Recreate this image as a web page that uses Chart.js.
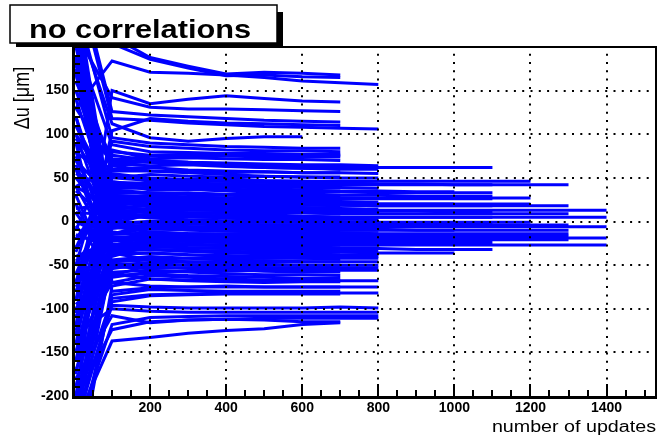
<!DOCTYPE html>
<html>
<head>
<meta charset="utf-8">
<script src="https://cdn.jsdelivr.net/npm/chart.js@4/dist/chart.umd.min.js"></script>
<style>
  html, body { margin: 0; padding: 0; background: #fff; }
  #chart { display: block; }
</style>
</head>
<body>
<canvas id="chart" width="658" height="441"></canvas>
<script>
// x positions of the update steps (first point is the start value)
const updateSteps = [5, 100, 200, 300, 400, 500, 600, 700, 800, 900, 1000, 1100, 1200, 1300, 1400];

const xTickValues = [200, 400, 600, 800, 1000, 1200, 1400];
const yTickValues = [-200, -150, -100, -50, 0, 50, 100, 150];

// delta u per alignable, grouped by the last update step it reaches
const runsTo600 = [
  [235, 112, 96, 92, 95, 97, 97],
  [-150, 18, 30, 27, 25, 24, 24],
  [175, -36, -44, -47, -46, -45, -46]
];

const runsTo700 = [
  [300, 212, 188, 178, 169, 171, 170, 168],
  [320, 204, 186, 176, 167, 168, 166, 165],
  [-120, 150, 135, 140, 144, 141, 138, 137],
  [215, 142, 131, 129, 129, 128, 127, 126],
  [290, 126, 122, 120, 118, 116, 115, 114],
  [-90, 104, 118, 115, 113, 112, 111, 110],
  [250, 96, 90, 88, 86, 85, 84, 84],
  [-50, 92, 86, 84, 82, 81, 81, 80],
  [205, 88, 80, 79, 78, 78, 77, 77],
  [-130, 80, 76, 77, 76, 75, 74, 74],
  [-10, 82, 72, 73, 72, 71, 71, 70],
  [150, 70, 75, 76, 75, 74, 75, 76],
  [40, 64, 70, 68, 66, 64, 62, 60],
  [130, 66, 64, 65, 63, 62, 61, 61],
  [95, 58, 58, 57, 56, 57, 56, 56],
  [-70, 50, 54, 52, 51, 52, 51, 51],
  [-30, 55, 50, 48, 49, 47, 46, 45],
  [55, 36, 46, 44, 43, 42, 41, 40],
  [100, 40, 42, 40, 40, 38, 36, 35],
  [-105, 44, 36, 37, 35, 33, 32, 30],
  [-60, 34, 32, 33, 31, 30, 29, 28],
  [70, 26, 28, 26, 25, 24, 23, 22],
  [185, 20, 24, 23, 21, 20, 19, 18],
  [-80, 28, 20, 18, 16, 15, 14, 12],
  [-110, 4, 16, 14, 12, 11, 10, 9],
  [60, 10, 12, 10, 9, 8, 6, 5],
  [35, -2, 8, 6, 4, 3, 2, 1],
  [10, 8, 4, 2, 1, 0, -1, -2],
  [-125, -8, -4, -6, -8, -9, -10, -11],
  [-190, -14, -8, -9, -11, -12, -13, -14],
  [120, -6, -12, -14, -15, -16, -17, -18],
  [80, -28, -16, -18, -20, -21, -22, -22],
  [-40, -22, -20, -22, -24, -25, -26, -27],
  [-15, -30, -24, -26, -28, -29, -30, -31],
  [230, -20, -28, -30, -31, -33, -34, -35],
  [40, -34, -32, -34, -36, -37, -38, -39],
  [-60, -38, -36, -38, -40, -41, -42, -43],
  [-250, -44, -40, -42, -44, -45, -46, -46],
  [60, -46, -44, -46, -48, -49, -50, -50],
  [-5, -54, -48, -50, -52, -53, -54, -54],
  [-215, -48, -52, -54, -55, -57, -58, -58],
  [-95, -58, -56, -58, -60, -61, -61, -62],
  [20, -62, -60, -62, -63, -64, -65, -65],
  [-140, -70, -62, -64, -66, -67, -67, -68],
  [-300, -74, -66, -68, -69, -70, -69, -69],
  [90, -80, -76, -75, -74, -75, -75, -75],
  [-270, -84, -78, -79, -80, -80, -80, -80],
  [-235, -92, -85, -84, -83, -83, -83, -83],
  [-230, -137, -133, -128, -125, -123, -118, -116],
  [-180, -108, -116, -113, -112, -113, -115, -115]
];

const runsTo800 = [
  [130, 184, 171, 170, 168, 165, 161, 159, 157],
  [280, 118, 116, 113, 111, 109, 108, 107, 106],
  [-70, 76, 70, 68, 67, 66, 65, 65, 64],
  [160, 72, 68, 66, 64, 62, 61, 60, 60],
  [185, 60, 62, 59, 58, 57, 56, 56, 55],
  [-35, 64, 58, 56, 54, 52, 51, 50, 50],
  [-140, 52, 48, 47, 46, 45, 44, 44, 43],
  [95, 44, 44, 42, 41, 40, 39, 39, 38],
  [80, 46, 40, 38, 37, 36, 35, 34, 34],
  [110, 32, 33, 31, 30, 29, 28, 27, 26],
  [-175, 26, 30, 28, 27, 25, 24, 23, 22],
  [-20, 30, 26, 24, 22, 21, 20, 19, 18],
  [15, 20, 22, 20, 18, 17, 16, 15, 14],
  [140, 16, 18, 16, 14, 13, 12, 11, 10],
  [-90, 14, 10, 8, 6, 5, 4, 3, 2],
  [260, 2, 8, 6, 4, 2, 1, 0, -1],
  [50, -2, 0, -2, -3, -4, -5, -6, -6],
  [-75, -14, -4, -6, -7, -8, -9, -10, -10],
  [-110, -4, -8, -10, -11, -12, -13, -13, -14],
  [120, -22, -12, -14, -15, -16, -17, -18, -18],
  [0, -12, -16, -18, -19, -20, -21, -22, -22],
  [-230, -30, -20, -22, -24, -25, -26, -26, -26],
  [-50, -26, -24, -26, -27, -28, -29, -30, -30],
  [65, -40, -28, -30, -31, -32, -33, -34, -34],
  [170, -28, -32, -34, -35, -36, -37, -38, -38],
  [-120, -36, -36, -38, -39, -40, -40, -40, -40],
  [-200, -46, -43, -42, -42, -42, -42, -42, -42],
  [10, -50, -47, -46, -46, -46, -46, -46, -46],
  [190, -62, -50, -50, -50, -50, -50, -50, -50],
  [-215, -52, -54, -53, -53, -53, -53, -53, -53],
  [30, -64, -58, -57, -57, -56, -56, -56, -56],
  [-170, -60, -66, -67, -68, -68, -68, -68, -68],
  [225, -70, -74, -75, -75, -75, -75, -75, -75],
  [-210, -88, -84, -83, -82, -82, -82, -82, -82],
  [-225, -96, -98, -99, -99, -99, -99, -98, -99],
  [-130, -100, -103, -104, -104, -104, -104, -104, -104],
  [-240, -118, -110, -109, -108, -108, -108, -108, -108],
  [-205, -124, -115, -113, -112, -111, -111, -111, -111]
];

const runsTo1000 = [
  [-160, 40, 38, 37, 36, 36, 35, 35, 35, 34, 34],
  [200, 24, 24, 23, 22, 22, 21, 21, 20, 20, 20],
  [-60, -3, -6, -7, -8, -8, -9, -9, -9, -10, -10],
  [75, -18, -22, -23, -24, -24, -25, -25, -25, -25, -25],
  [-100, -32, -32, -33, -34, -35, -35, -35, -36, -36, -36]
];

const runsTo1100 = [
  [-200, 68, 68, 66, 65, 64, 63, 63, 62, 62, 62, 62],
  [60, 52, 48, 47, 46, 45, 44, 44, 43, 43, 42, 42],
  [-20, 38, 38, 37, 36, 35, 34, 34, 33, 33, 33, 33],
  [150, 36, 33, 32, 31, 31, 30, 30, 30, 29, 29, 29],
  [90, 28, 29, 28, 27, 27, 26, 26, 26, 26, 26, 26],
  [-130, 18, 22, 21, 20, 20, 19, 19, 18, 18, 18, 18],
  [40, 16, 14, 13, 13, 12, 12, 12, 12, 12, 11, 11],
  [230, 10, 7, 7, 6, 6, 6, 5, 5, 5, 5, 5],
  [170, -4, 0, 0, -1, -1, -1, -2, -2, -2, -2, -2],
  [-90, -12, -16, -16, -17, -17, -17, -17, -17, -17, -17, -17],
  [-45, -20, -22, -23, -23, -24, -24, -24, -24, -24, -24, -24],
  [-150, -26, -29, -30, -30, -31, -31, -31, -31, -32, -32, -32]
];

const runsTo1200 = [
  [60, 50, 47, 47, 46, 46, 46, 46, 46, 46, 46, 46, 46],
  [-120, 30, 28, 27, 27, 27, 27, 27, 27, 27, 27, 27, 27],
  [-30, 24, 21, 20, 20, 20, 20, 20, 20, 20, 20, 20, 20],
  [180, 0, -2, -2, -1, -1, -1, -1, -1, -1, -1, -1, -1]
];

const runsTo1300 = [
  [-235, 45, 43, 42, 42, 42, 42, 42, 42, 42, 42, 42, 42, 42],
  [110, 22, 19, 19, 19, 19, 19, 19, 18, 18, 18, 18, 18, 18],
  [-70, 12, 10, 10, 10, 10, 10, 9, 9, 9, 9, 9, 9, 9],
  [70, 0, -3, -3, -4, -4, -4, -4, -4, -4, -4, -4, -4, -4],
  [210, -6, -9, -9, -9, -10, -10, -10, -10, -10, -10, -10, -10, -10],
  [-190, -15, -13, -14, -14, -14, -14, -14, -14, -14, -14, -14, -14, -14],
  [-220, -18, -17, -17, -17, -17, -17, -17, -17, -17, -17, -17, -17, -17],
  [0, -22, -20, -21, -21, -21, -21, -21, -21, -21, -21, -21, -21, -21]
];

const runsTo1400 = [
  [-50, 16, 14, 14, 13, 13, 13, 13, 13, 13, 13, 13, 13, 13, 13],
  [240, 6, 5, 5, 5, 5, 5, 5, 5, 5, 5, 5, 5, 5, 5],
  [-160, -4, -6, -6, -6, -6, -6, -6, -6, -6, -6, -6, -6, -6, -6],
  [100, -18, -19, -19, -19, -19, -19, -19, -19, -19, -19, -19, -19, -19, -19],
  [-210, -28, -27, -27, -27, -27, -27, -27, -27, -27, -27, -27, -27, -27, -27]
];

const allRuns = [
  ...runsTo600, ...runsTo700, ...runsTo800, ...runsTo1000,
  ...runsTo1100, ...runsTo1200, ...runsTo1300, ...runsTo1400
];

const datasets = allRuns.map(run => ({
  data: run.map((y, i) => ({ x: updateSteps[i], y })),
  borderColor: '#0000ff',
  borderWidth: 3,
  pointRadius: 0,
  tension: 0,
  fill: false
}));

// ROOT style frame, dotted grid, ticks, title box and axis titles
const rootFrame = {
  id: 'rootFrame',
  afterDatasetsDraw(chart) {
    const { ctx, chartArea: a, scales: { x, y } } = chart;
    ctx.save();

    // dotted grid on top of the lines
    ctx.strokeStyle = '#000';
    ctx.lineWidth = 2;
    ctx.setLineDash([2, 6.3]);
    xTickValues.forEach(v => {
      const px = Math.round(x.getPixelForValue(v));
      ctx.beginPath();
      ctx.moveTo(px, a.bottom);
      ctx.lineTo(px, a.top);
      ctx.stroke();
    });
    yTickValues.filter(v => v > -200).forEach(v => {
      const py = Math.round(y.getPixelForValue(v));
      ctx.beginPath();
      ctx.moveTo(a.left, py);
      ctx.lineTo(a.right, py);
      ctx.stroke();
    });
    ctx.setLineDash([]);

    // frame
    ctx.lineWidth = 2;
    ctx.beginPath();
    ctx.moveTo(a.left, a.top);
    ctx.lineTo(a.right, a.top);
    ctx.lineTo(a.right, a.bottom);
    ctx.stroke();
    ctx.lineWidth = 3;
    ctx.beginPath();
    ctx.moveTo(a.left - 0.5, a.top);
    ctx.lineTo(a.left - 0.5, a.bottom + 1.5);
    ctx.lineTo(a.right + 1, a.bottom + 1.5);
    ctx.stroke();

    // axis ticks
    ctx.lineWidth = 2;
    for (let v = 50; v < 1530; v += 50) {
      const px = Math.round(x.getPixelForValue(v));
      const len = v % 200 === 0 ? 12 : 6;
      ctx.beginPath();
      ctx.moveTo(px, a.bottom);
      ctx.lineTo(px, a.bottom - len);
      ctx.stroke();
    }
    for (let v = -190; v < 200; v += 10) {
      const py = Math.round(y.getPixelForValue(v));
      const len = v % 50 === 0 ? 12 : 6;
      ctx.beginPath();
      ctx.moveTo(a.left, py);
      ctx.lineTo(a.left + len, py);
      ctx.stroke();
    }

    // title box with shadow
    ctx.fillStyle = '#000';
    ctx.fillRect(16, 12, 267, 35);
    ctx.fillStyle = '#fff';
    ctx.fillRect(10, 5, 267, 38);
    ctx.lineWidth = 1.5;
    ctx.strokeRect(10, 5, 267, 38);
    ctx.fillStyle = '#000';
    ctx.save();
    ctx.translate(29, 38);
    ctx.scale(1.23, 1);
    ctx.font = 'bold 25px "Liberation Sans", Arial, sans-serif';
    ctx.textBaseline = 'alphabetic';
    ctx.fillText('no correlations', 0, 0);
    ctx.restore();

    // x axis title
    ctx.save();
    ctx.translate(656, 432);
    ctx.scale(1.23, 1);
    ctx.font = '16px "Liberation Sans", Arial, sans-serif';
    ctx.textAlign = 'right';
    ctx.fillText('number of updates', 0, 0);
    ctx.restore();

    // y axis title
    ctx.save();
    ctx.translate(29, 98);
    ctx.rotate(-Math.PI / 2);
    ctx.scale(1, 1.2);
    ctx.font = '18px "Liberation Sans", Arial, sans-serif';
    ctx.textAlign = 'center';
    ctx.fillText('\u0394u [\u03bcm]', 0, 0);
    ctx.restore();

    ctx.restore();
  }
};

const tickFont = { family: '"Liberation Sans", Arial, sans-serif', size: 14, weight: 'bold' };

new Chart(document.getElementById('chart'), {
  type: 'line',
  data: { datasets },
  options: {
    responsive: false,
    animation: false,
    events: [],
    layout: { padding: { top: 47, right: 2, left: 0, bottom: 0 } },
    plugins: {
      legend: { display: false },
      tooltip: { enabled: false }
    },
    scales: {
      x: {
        type: 'linear',
        min: 0,
        max: 1530,
        border: { display: false },
        grid: { display: false, drawTicks: false },
        afterBuildTicks: s => { s.ticks = xTickValues.map(v => ({ value: v })); },
        afterFit: s => { s.height = 45; },
        ticks: { color: '#000', font: tickFont, padding: 4, maxRotation: 0, autoSkip: false, callback: v => String(v) }
      },
      y: {
        type: 'linear',
        min: -200,
        max: 200,
        border: { display: false },
        grid: { display: false, drawTicks: false },
        afterBuildTicks: s => { s.ticks = yTickValues.map(v => ({ value: v })); },
        afterFit: s => { s.width = 74; },
        ticks: { color: '#000', font: tickFont, padding: 5, autoSkip: false, callback: v => String(v) }
      }
    }
  },
  plugins: [rootFrame]
});
</script>
</body>
</html>
